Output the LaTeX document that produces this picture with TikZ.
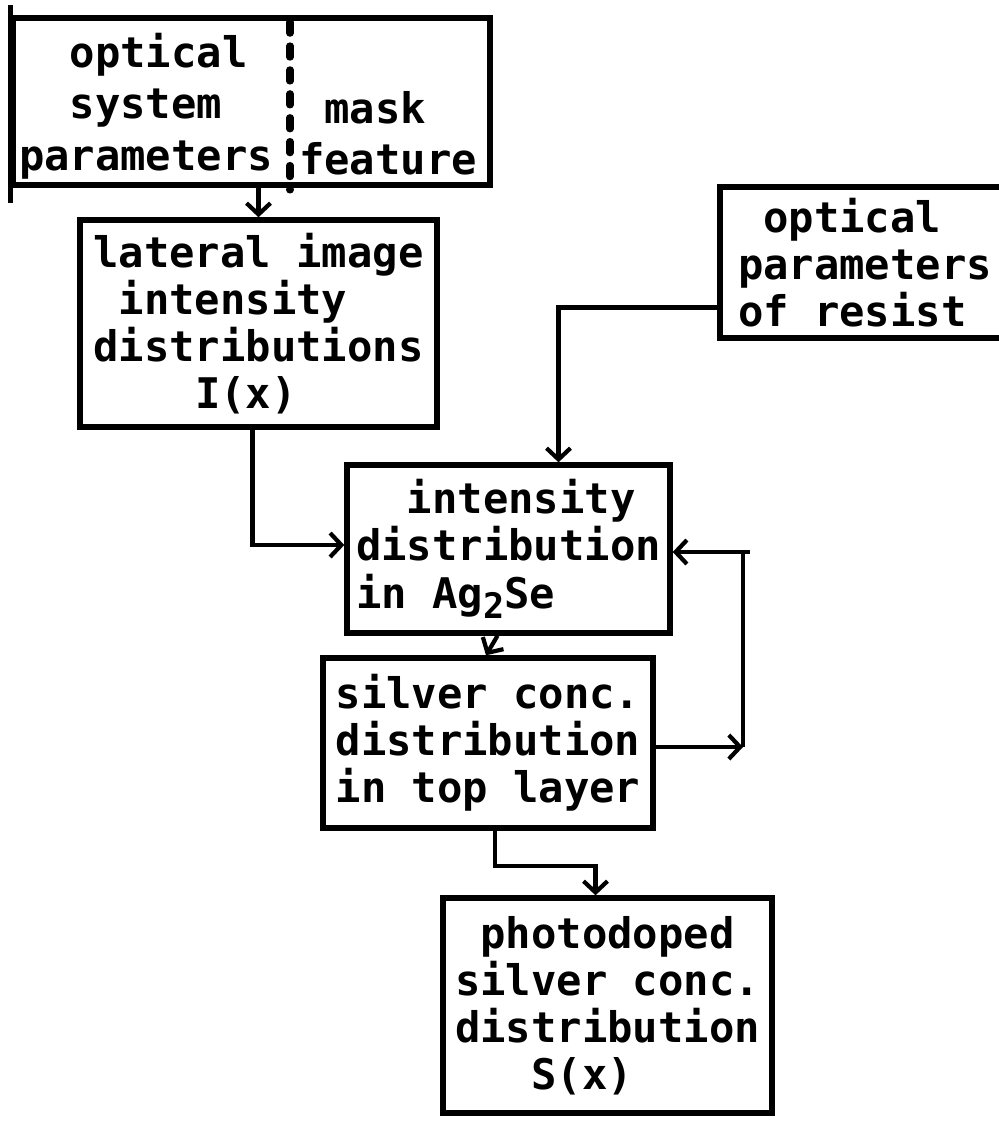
\documentclass[tikz,border=0pt]{standalone}
\usepackage{fontspec}
\setmonofont{DejaVu Sans Mono}
\usetikzlibrary{arrows.meta,calc}
\newcommand{\ind}[1]{\hspace*{#1\fontcharwd\font`x}}
\newcommand{\lowtwo}{\raisebox{-0.45ex}{\fontsize{25}{25}\selectfont 2}}

\begin{document}
\begin{tikzpicture}[x=0.025cm,y=-0.025cm]
	\tikzset{box/.style={draw,line width=3.8pt,inner sep=0pt,align=left,
			font=\ttfamily\bfseries\fontsize{30}{33.5}\selectfont},
		txt/.style={inner sep=0pt,align=left,font=\ttfamily\bfseries\fontsize{30}{36.6}\selectfont},
		conn/.style={line width=3pt,-{Straight Barb[length=8pt,width=17pt,line width=3pt]}},
		wire/.style={line width=3pt},
		divider/.style={line width=5pt,line cap=round,dash pattern=on 8pt off 9pt}}
	\useasboundingbox (0,0) rectangle (999,1121);
	% boxes
	\node[box,minimum width=11.925cm,minimum height=4.175cm] (sys) at (251.5,101.5) {};
	\node[txt] (sysl) at (146,106) {\ind{2}optical\\\ind{2}system\\parameters};
	\node[txt] (sysr) at (388,133) {\ind{1}mask\\feature};
	\node[box,minimum width=8.925cm,minimum height=5.175cm] (lat) at (258.5,323.5)
		{lateral image\\\ind{1}intensity\\distributions\\\ind{4}I(x)};
	\node[box,minimum width=7.25cm,minimum height=3.775cm] (res) at (865,262.5)
		{\ind{1}optical\\parameters\\of resist};
	\node[box,minimum width=8.075cm,minimum height=4.2cm] (int) at (508.5,549)
		{\ind{2}intensity\\distribution\\in Ag\lowtwo Se};
	\node[box,minimum width=8.25cm,minimum height=4.25cm] (sil) at (488,743)
		{silver conc.\\distribution\\in top layer};
	\node[box,minimum width=8.225cm,minimum height=5.375cm] (pho) at (607.5,1005.5)
		{\ind{1}photodoped\\silver conc.\\distribution\\\ind{3}S(x)};
	\draw[line width=3.8pt] ($(sys.north west)+(0,-10)$) -- ($(sys.south west)+(0,15)$);
	\draw[divider] (290,22) -- (290,190);
	% connectors
	\draw[conn] (sys.south -| lat.north) -- (lat.north);
	\draw[conn] ($(lat.south)+(-6,0)$) |- ($(int.west)+(0,-4)$);
	\draw[conn] ($(res.west)+(0,45)$) -| ($(int.north)+(50,0)$);
	\draw[conn] ($(int.south)+(-11,0)$) -- ($(sil.north)+(-2,0)$);
	\coordinate (fbk) at (743,747);
	\coordinate (fbtop) at (750,552);
	\draw[conn] (sil.east |- fbk) -- (fbk);
	\draw[wire] (fbk) -- (fbk |- fbtop);
	\draw[conn] (fbtop) -- (int.east |- fbtop);
	\draw[conn] ($(sil.south)+(7,0)$) -- ++(0,35) -| ($(pho.north)+(-12,0)$);
\end{tikzpicture}
\end{document}
